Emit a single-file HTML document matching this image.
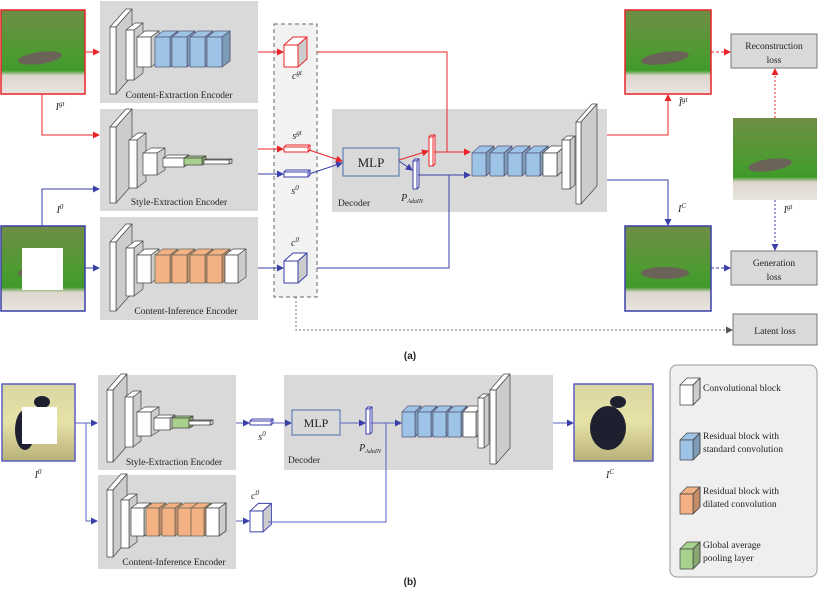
<!DOCTYPE html>
<html><head><meta charset="utf-8">
<style>
html,body{margin:0;padding:0;background:#fff;}
svg{display:block;font-family:"Liberation Serif",serif;}
.sans{font-family:"Liberation Sans",sans-serif;}
.sd{fill:#000;fill-opacity:.2;}
</style></head>
<body>
<svg width="820" height="591" viewBox="0 0 820 591" xmlns="http://www.w3.org/2000/svg" xmlns:xlink="http://www.w3.org/1999/xlink">
<defs>
<marker id="ar" markerWidth="7" markerHeight="7" refX="6" refY="3.5" orient="auto" markerUnits="userSpaceOnUse"><path d="M0,0 L7,3.5 L0,7z" fill="#e8242a"/></marker>
<marker id="ab" markerWidth="7" markerHeight="7" refX="6" refY="3.5" orient="auto" markerUnits="userSpaceOnUse"><path d="M0,0 L7,3.5 L0,7z" fill="#3b3fa8"/></marker>
<marker id="ag" markerWidth="7" markerHeight="7" refX="6" refY="3.5" orient="auto" markerUnits="userSpaceOnUse"><path d="M0,0 L7,3.5 L0,7z" fill="#555"/></marker>
<linearGradient id="grass" x1="0" y1="0" x2="0" y2="1"><stop offset="0" stop-color="#6f8d46"/><stop offset="0.5" stop-color="#4f9a32"/><stop offset="0.72" stop-color="#3f9a2a"/><stop offset="0.78" stop-color="#ddd6cc"/><stop offset="1" stop-color="#e8e4e0"/></linearGradient>
<linearGradient id="bird" x1="0" y1="0" x2="0" y2="1"><stop offset="0" stop-color="#d9d6a4"/><stop offset="0.5" stop-color="#e6e2a6"/><stop offset="1" stop-color="#b8b07a"/></linearGradient>
<g id="bA"><polygon points="0,0 8,-6 23,-6 15,0"/><polygon points="15,0 23,-6 23,24 15,30"/><polygon class="sd" points="15,0 23,-6 23,24 15,30"/><rect width="15" height="30"/></g>
<g id="oA"><polygon points="0,0 8,-6 23,-6 15,0"/><polygon points="15,0 23,-6 23,22 15,28"/><polygon class="sd" points="15,0 23,-6 23,22 15,28"/><rect width="15" height="28"/></g>
<g id="lc"><polygon points="0,0 9,-8 23,-8 14,0"/><polygon points="14,0 23,-8 23,14 14,22" fill="#ccc"/><rect width="14" height="22"/></g>
<g id="hb"><polygon points="0,0 2,-2 26,-2 24,0"/><polygon points="24,0 26,-2 26,3 24,5"/><rect width="24" height="5"/></g>
<g id="bD"><polygon points="0,0 8,-7 22,-7 14,0"/><polygon points="14,0 22,-7 22,16 14,23"/><polygon class="sd" points="14,0 22,-7 22,16 14,23"/><rect width="14" height="23"/></g>
<g id="cb"><polygon points="0,0 7,-5 20,-5 13,0"/><polygon points="13,0 20,-5 20,23 13,28"/><polygon class="sd" points="13,0 20,-5 20,23 13,28"/><rect width="13" height="28"/></g>
<g id="dB"><polygon points="0,0 6,-6 19,-6 13,0"/><polygon points="13,0 19,-6 19,19 13,25"/><polygon class="sd" points="13,0 19,-6 19,19 13,25"/><rect width="13" height="25"/></g>
<g id="lg"><polygon points="0,0 7,-7 20,-7 13,0"/><polygon points="13,0 20,-7 20,13 13,20"/><polygon class="sd" points="13,0 20,-7 20,13 13,20"/><rect width="13" height="20"/></g>
</defs>

<!-- panels -->
<rect x="100" y="1" width="158" height="102" fill="#d9d9d9"/>
<rect x="100" y="109" width="158" height="102" fill="#d9d9d9"/>
<rect x="100" y="217" width="158" height="103" fill="#d9d9d9"/>
<rect x="274" y="24" width="43" height="273" fill="#f2f2f2" stroke="#666" stroke-dasharray="4,3"/>
<rect x="332" y="109" width="275" height="103" fill="#d9d9d9"/>
<rect x="98" y="375" width="138" height="95" fill="#d9d9d9"/>
<rect x="98" y="475" width="138" height="94" fill="#d9d9d9"/>
<rect x="284" y="375" width="269" height="95" fill="#d9d9d9"/>
<rect x="670" y="365" width="147" height="212" rx="7" fill="#efefef" stroke="#999"/>

<!-- shapes -->
<g stroke="#444" stroke-width="0.7" stroke-linejoin="round">
<!-- CEE -->
<g fill="#fff">
<g transform="translate(110,27)"><polygon points="0,0 16,-18 22,-18 6,0"/><polygon points="6,0 22,-18 22,49 6,67" fill="#ccc"/><rect width="6" height="67"/></g>
<g transform="translate(126,30)"><polygon points="0,0 9,-7 17,-7 8,0"/><polygon points="8,0 17,-7 17,43 8,50" fill="#ccc"/><rect width="8" height="50"/></g>
<g transform="translate(137,37)"><polygon points="0,0 8,-6 22,-6 14,0"/><polygon points="14,0 22,-6 22,24 14,30" fill="#ccc"/><rect width="14" height="30"/></g>
</g>
<g fill="#9dc3e6" stroke="#557"><use xlink:href="#bA" x="155" y="37"/><use xlink:href="#bA" x="172" y="37"/><use xlink:href="#bA" x="190" y="37"/><use xlink:href="#bA" x="207" y="37"/></g>
<!-- SEE -->
<g fill="#fff">
<g transform="translate(110,127)"><polygon points="0,0 16,-18 22,-18 6,0"/><polygon points="6,0 22,-18 22,58 6,76" fill="#ccc"/><rect width="6" height="76"/></g>
<g transform="translate(129,140)"><polygon points="0,0 9,-7 17,-7 8,0"/><polygon points="8,0 17,-7 17,41 8,48" fill="#ccc"/><rect width="8" height="48"/></g>
<g transform="translate(143,153)"><polygon points="0,0 8,-5 22,-5 14,0"/><polygon points="14,0 22,-5 22,17 14,22" fill="#ccc"/><rect width="14" height="22"/></g>
<g transform="translate(163,158)"><polygon points="0,0 5,-3 26,-3 21,0"/><polygon points="21,0 26,-3 26,6 21,9" fill="#ccc"/><rect width="21" height="9"/></g>
<g transform="translate(184,158)" fill="#a9d18e"><polygon points="0,0 4,-2 22,-2 18,0"/><polygon points="18,0 22,-2 22,5 18,7" fill="#7fa868"/><rect width="18" height="7"/></g>
<g transform="translate(204,160)"><polygon points="0,0 3,-1 28,-1 25,0"/><polygon points="25,0 28,-1 28,3 25,4" fill="#ccc"/><rect width="25" height="4"/></g>
</g>
<!-- CIE -->
<g fill="#fff">
<g transform="translate(110,242)"><polygon points="0,0 16,-18 22,-18 6,0"/><polygon points="6,0 22,-18 22,51 6,69" fill="#ccc"/><rect width="6" height="69"/></g>
<g transform="translate(126,248)"><polygon points="0,0 9,-7 17,-7 8,0"/><polygon points="8,0 17,-7 17,41 8,48" fill="#ccc"/><rect width="8" height="48"/></g>
<g transform="translate(137,255)"><polygon points="0,0 8,-6 22,-6 14,0"/><polygon points="14,0 22,-6 22,22 14,28" fill="#ccc"/><rect width="14" height="28"/></g>
</g>
<g fill="#f4b183" stroke="#665"><use xlink:href="#oA" x="155" y="255"/><use xlink:href="#oA" x="172" y="255"/><use xlink:href="#oA" x="190" y="255"/><use xlink:href="#oA" x="207" y="255"/></g>
<g fill="#fff" transform="translate(225,255)"><polygon points="0,0 8,-6 21,-6 13,0"/><polygon points="13,0 21,-6 21,22 13,28" fill="#ccc"/><rect width="13" height="28"/></g>
<!-- latent -->
<g fill="#fff" stroke="#e8242a" stroke-width="1"><use xlink:href="#lc" x="284" y="45"/><use xlink:href="#hb" x="284" y="147"/>
<g transform="translate(429,137)"><polygon points="0,0 2,-2 6,-2 4,0"/><polygon points="4,0 6,-2 6,27 4,29"/><rect width="4" height="29"/></g></g>
<g fill="#fff" stroke="#3b3fa8" stroke-width="1"><use xlink:href="#lc" x="284" y="261"/><use xlink:href="#hb" x="284" y="172"/>
<g transform="translate(413,161)"><polygon points="0,0 2,-2 6,-2 4,0"/><polygon points="4,0 6,-2 6,26 4,28"/><rect width="4" height="28"/></g>
<use xlink:href="#lc" x="0" y="0" transform="translate(250,511) scale(0.93,0.95)"/>
<g transform="translate(250,421)"><polygon points="0,0 2,-2 23,-2 21,0"/><polygon points="21,0 23,-2 23,2 21,4"/><rect width="21" height="4"/></g>
<g transform="translate(366,409)"><polygon points="0,0 2,-2 6,-2 4,0"/><polygon points="4,0 6,-2 6,23 4,25"/><rect width="4" height="25"/></g>
</g>
<!-- decoder a -->
<g fill="#9dc3e6" stroke="#557"><use xlink:href="#bD" x="472" y="153"/><use xlink:href="#bD" x="490" y="153"/><use xlink:href="#bD" x="508" y="153"/><use xlink:href="#bD" x="526" y="153"/></g>
<g fill="#fff"><use xlink:href="#bD" x="543" y="153"/>
<g transform="translate(562,140)"><polygon points="0,0 5,-4 13,-4 8,0"/><polygon points="8,0 13,-4 13,45 8,49" fill="#ccc"/><rect width="8" height="49"/></g>
<g transform="translate(576,122)"><polygon points="0,0 16,-18 21,-18 5,0"/><polygon points="5,0 21,-18 21,64 5,82" fill="#ccc"/><rect width="5" height="82"/></g>
</g>
<!-- b SEE -->
<g fill="#fff">
<g transform="translate(107,390)"><polygon points="0,0 14,-16 20,-16 6,0"/><polygon points="6,0 20,-16 20,56 6,72" fill="#ccc"/><rect width="6" height="72"/></g>
<g transform="translate(125,397)"><polygon points="0,0 8,-6 16,-6 8,0"/><polygon points="8,0 16,-6 16,44 8,50" fill="#ccc"/><rect width="8" height="50"/></g>
<g transform="translate(137,412)"><polygon points="0,0 8,-5 22,-5 14,0"/><polygon points="14,0 22,-5 22,19 14,24" fill="#ccc"/><rect width="14" height="24"/></g>
<g transform="translate(154,418)"><polygon points="0,0 5,-3 21,-3 16,0"/><polygon points="16,0 21,-3 21,9 16,12" fill="#ccc"/><rect width="16" height="12"/></g>
<g transform="translate(172,418)" fill="#a9d18e"><polygon points="0,0 4,-2 21,-2 17,0"/><polygon points="17,0 21,-2 21,8 17,10" fill="#7fa868"/><rect width="17" height="10"/></g>
<g transform="translate(189,421)"><polygon points="0,0 3,-1 24,-1 21,0"/><polygon points="21,0 24,-1 24,3 21,4" fill="#ccc"/><rect width="21" height="4"/></g>
<!-- b CIE -->
<g transform="translate(107,490)"><polygon points="0,0 14,-16 20,-16 6,0"/><polygon points="6,0 20,-16 20,51 6,67" fill="#ccc"/><rect width="6" height="67"/></g>
<g transform="translate(121,500)"><polygon points="0,0 8,-6 16,-6 8,0"/><polygon points="8,0 16,-6 16,42 8,48" fill="#ccc"/><rect width="8" height="48"/></g>
<use xlink:href="#cb" x="131" y="508"/>
</g>
<g fill="#f4b183" stroke="#665"><use xlink:href="#cb" x="146" y="508"/><use xlink:href="#cb" x="162" y="508"/><use xlink:href="#cb" x="178" y="508"/><use xlink:href="#cb" x="191" y="508"/></g>
<g fill="#fff"><use xlink:href="#cb" x="206" y="508"/></g>
<!-- b decoder -->
<g fill="#9dc3e6" stroke="#557"><use xlink:href="#dB" x="402" y="412"/><use xlink:href="#dB" x="418" y="412"/><use xlink:href="#dB" x="433" y="412"/><use xlink:href="#dB" x="448" y="412"/></g>
<g fill="#fff"><use xlink:href="#dB" x="463" y="412"/>
<g transform="translate(478,398)"><polygon points="0,0 5,-4 11,-4 6,0"/><polygon points="6,0 11,-4 11,46 6,50" fill="#ccc"/><rect width="6" height="50"/></g>
<g transform="translate(490,390)"><polygon points="0,0 14,-16 20,-16 6,0"/><polygon points="6,0 20,-16 20,58 6,74" fill="#ccc"/><rect width="6" height="74"/></g>
</g>
<!-- legend -->
<use xlink:href="#lg" x="680" y="385" fill="#fff"/>
<use xlink:href="#lg" x="680" y="440" fill="#9dc3e6"/>
<use xlink:href="#lg" x="680" y="494" fill="#f4b183"/>
<use xlink:href="#lg" x="680" y="549" fill="#a9d18e"/>
</g>

<!-- images -->
<g>
<rect x="1" y="10" width="84" height="84" fill="url(#grass)" stroke="#e8242a" stroke-width="1.5"/>
<ellipse cx="40" cy="58" rx="22" ry="6" fill="#6b6258" transform="rotate(-8 40 58)"/>
<rect x="1" y="226" width="84" height="85" fill="url(#grass)" stroke="#3b3fa8" stroke-width="1.5"/>
<ellipse cx="40" cy="273" rx="22" ry="6" fill="#6b6258"/>
<rect x="22" y="248" width="41" height="42" fill="#fff"/>
<rect x="625" y="10" width="86" height="84" fill="url(#grass)" stroke="#e8242a" stroke-width="1.5"/>
<ellipse cx="665" cy="58" rx="24" ry="6" fill="#6b6258" transform="rotate(-8 665 58)"/>
<rect x="733" y="118" width="84" height="82" fill="url(#grass)"/>
<ellipse cx="770" cy="165" rx="22" ry="6" fill="#6b6258" transform="rotate(-8 770 165)"/>
<rect x="625" y="226" width="86" height="85" fill="url(#grass)" stroke="#3b3fa8" stroke-width="1.5"/>
<ellipse cx="665" cy="273" rx="24" ry="6" fill="#6b6258"/>
<rect x="2" y="384" width="73" height="77" fill="url(#bird)" stroke="#5a5fc0" stroke-width="1.5"/>
<ellipse cx="25" cy="430" rx="10" ry="20" fill="#1e2030"/>
<ellipse cx="42" cy="402" rx="8" ry="6" fill="#1e2030"/>
<rect x="22" y="407" width="35" height="37" fill="#fff"/>
<rect x="574" y="384" width="79" height="77" fill="url(#bird)" stroke="#5a5fc0" stroke-width="1.5"/>
<ellipse cx="608" cy="428" rx="18" ry="22" fill="#1e2030"/>
<ellipse cx="618" cy="402" rx="8" ry="6" fill="#1e2030"/>
</g>

<!-- loss boxes -->
<rect x="731" y="34" width="86" height="34" fill="#d9d9d9" stroke="#777"/>
<rect x="731" y="251" width="86" height="34" fill="#d9d9d9" stroke="#777"/>
<rect x="733" y="314" width="84" height="31" fill="#d9d9d9" stroke="#777"/>
<rect x="343" y="148" width="56" height="28" fill="#d9d9d9" stroke="#4a6fb0"/>
<rect x="292" y="410" width="48" height="25" fill="#d9d9d9" stroke="#4a6fb0"/>

<!-- connectors -->
<g fill="none" stroke-width="1">
<g stroke="#e8242a">
<path d="M85 52H99" marker-end="url(#ar)"/>
<path d="M42 94V135H99" marker-end="url(#ar)"/>
<path d="M258 52H283" marker-end="url(#ar)"/>
<path d="M317 52H447V152H470" marker-end="url(#ar)"/>
<path d="M434 152H447"/>
<path d="M258 149H283" marker-end="url(#ar)"/>
<path d="M309 150L342 161" marker-end="url(#ar)"/>
<path d="M399 160L428 151" marker-end="url(#ar)"/>
<path d="M607 135H668V95" marker-end="url(#ar)"/>
<path d="M711 52H730" stroke-dasharray="3,2" marker-end="url(#ar)"/>
<path d="M775 118V69" stroke-dasharray="2,2" marker-end="url(#ar)"/>
</g>
<g stroke="#3b3fa8">
<path d="M42 226V189H99" marker-end="url(#ab)"/>
<path d="M85 268H99" marker-end="url(#ab)"/>
<path d="M258 174H283" marker-end="url(#ab)"/>
<path d="M309 174L342 163" marker-end="url(#ab)"/>
<path d="M399 161L412 170" marker-end="url(#ab)"/>
<path d="M418 175H470" marker-end="url(#ab)"/>
<path d="M317 268H449V175"/>
<path d="M258 268H283" marker-end="url(#ab)"/>
<path d="M607 180H668V225" marker-end="url(#ab)"/>
<path d="M711 268H730" stroke-dasharray="3,2" marker-end="url(#ab)"/>
<path d="M775 200V250" stroke-dasharray="2,2" marker-end="url(#ab)"/>
</g>
<path d="M296 297V330H732" stroke="#777" stroke-dasharray="2,2" marker-end="url(#ag)"/>
<g stroke="#5a5fc0">
<path d="M75 423H97" marker-end="url(#ab)"/>
<path d="M86 423V521H97" marker-end="url(#ab)"/>
<path d="M236 423H249" marker-end="url(#ab)"/>
<path d="M272 423H291" marker-end="url(#ab)"/>
<path d="M340 423H365" marker-end="url(#ab)"/>
<path d="M371 423H401" marker-end="url(#ab)"/>
<path d="M268 522H386V423"/>
<path d="M236 521H249" marker-end="url(#ab)"/>
<path d="M553 423H573" marker-end="url(#ab)"/>
</g>
</g>

<!-- text -->
<g font-size="9.5" fill="#222" text-anchor="middle">
<text x="179" y="98">Content-Extraction Encoder</text>
<text x="179" y="205">Style-Extraction Encoder</text>
<text x="186" y="314">Content-Inference Encoder</text>
<text x="338" y="206" text-anchor="start">Decoder</text>
<text x="371" y="167" font-size="13">MLP</text>
<text x="774" y="49">Reconstruction</text>
<text x="774" y="63">loss</text>
<text x="774" y="266">Generation</text>
<text x="774" y="280">loss</text>
<text x="775" y="334">Latent loss</text>
<text x="174" y="465">Style-Extraction Encoder</text>
<text x="174" y="565">Content-Inference Encoder</text>
<text x="288" y="463" text-anchor="start">Decoder</text>
<text x="316" y="427" font-size="12">MLP</text>
<g text-anchor="start" font-size="9.5">
<text x="703" y="391">Convolutional block</text>
<text x="703" y="439">Residual block with</text>
<text x="703" y="452">standard convolution</text>
<text x="703" y="494">Residual block with</text>
<text x="703" y="507">dilated convolution</text>
<text x="703" y="548">Global average</text>
<text x="703" y="561">pooling layer</text>
</g>
<g font-style="italic" font-size="10">
<text x="60" y="110">I<tspan font-size="7" dy="-4">gt</tspan></text>
<text x="60" y="213">I<tspan font-size="7" dy="-4">0</tspan></text>
<text x="297" y="79">c<tspan font-size="7" dy="-4">gt</tspan></text>
<text x="297" y="139">s<tspan font-size="7" dy="-4">gt</tspan></text>
<text x="295" y="194">s<tspan font-size="7" dy="-4">0</tspan></text>
<text x="295" y="246">c<tspan font-size="7" dy="-4">0</tspan></text>
<text x="412" y="201">P<tspan font-size="6" dy="2">AdaIN</tspan></text>
<text x="683" y="106">Ĩ<tspan font-size="7" dy="-4">gt</tspan></text>
<text x="682" y="212">I<tspan font-size="7" dy="-4">C</tspan></text>
<text x="788" y="213">I<tspan font-size="7" dy="-4">gt</tspan></text>
<text x="38" y="478">I<tspan font-size="7" dy="-4">0</tspan></text>
<text x="262" y="440">s<tspan font-size="7" dy="-4">0</tspan></text>
<text x="255" y="499">c<tspan font-size="7" dy="-4">0</tspan></text>
<text x="370" y="451">P<tspan font-size="6" dy="2">AdaIN</tspan></text>
<text x="610" y="478">I<tspan font-size="7" dy="-4">C</tspan></text>
</g>
<text class="sans" x="410" y="359" font-size="10" font-weight="bold">(a)</text>
<text class="sans" x="410" y="585" font-size="10" font-weight="bold">(b)</text>
</g>
</svg>
</body></html>
